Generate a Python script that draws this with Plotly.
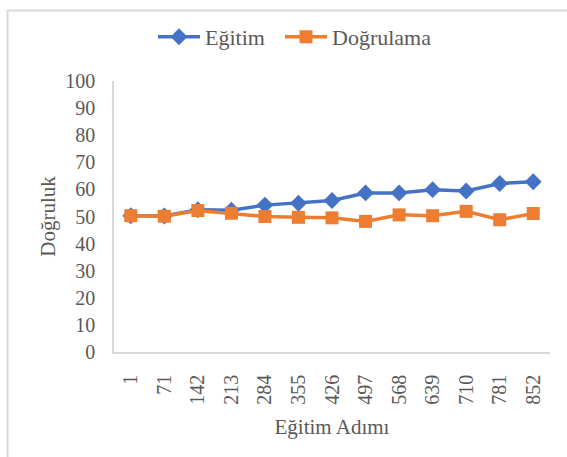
import plotly.graph_objects as go

steps = ["1", "71", "142", "213", "284", "355", "426", "497", "568", "639", "710", "781", "852"]
egitim = [50.3, 50.2, 52.5, 52.3, 54.2, 54.9, 55.9, 58.7, 58.7, 59.9, 59.4, 62.2, 62.8]
dogrulama = [50.3, 50.1, 52.2, 51.2, 50.0, 49.7, 49.5, 48.2, 50.6, 50.3, 51.9, 48.8, 51.1]

FONT = "Liberation Serif"
GRAY = "#595959"

fig = go.Figure()
fig.add_trace(go.Scatter(
    x=steps, y=egitim, name="Eğitim", mode="lines+markers", legendwidth=70,
    line=dict(color="#4472C4", width=3.5),
    marker=dict(symbol="diamond", size=13, color="#4472C4"),
))
fig.add_trace(go.Scatter(
    x=steps, y=dogrulama, name="Doğrulama", mode="lines+markers", legendwidth=97,
    line=dict(color="#ED7D31", width=3.5),
    marker=dict(symbol="square", size=13, color="#ED7D31"),
))

fig.update_layout(
    width=567, height=457,
    margin=dict(l=114, r=17, t=77, b=105),
    paper_bgcolor="white", plot_bgcolor="white",
    font=dict(family=FONT, size=20, color=GRAY),
    showlegend=True,
    legend=dict(orientation="h", x=(283.5 + 10) / 567, xref="container", xanchor="center",
                y=1 - 37 / 457, yref="container", yanchor="middle",
                font=dict(family=FONT, size=22, color=GRAY), itemwidth=42),
    xaxis=dict(
        type="category", showgrid=False, showline=True, linecolor="#d9d9d9", linewidth=1.5,
        tickangle=-90, ticks="outside", ticklen=13, tickcolor="rgba(0,0,0,0)",
        tickfont=dict(family=FONT, size=20, color=GRAY),
        title=dict(text="Eğitim Adımı", font=dict(family=FONT, size=21, color=GRAY), standoff=16),
        range=[-0.5, 12.5], zeroline=False,
    ),
    yaxis=dict(
        range=[0, 100], dtick=10, showgrid=False, showline=True, linecolor="#d9d9d9", linewidth=1.5,
        ticks="outside", ticklen=13, tickcolor="rgba(0,0,0,0)",
        tickfont=dict(family=FONT, size=20, color=GRAY),
        title=dict(text="Doğruluk", font=dict(family=FONT, size=21, color=GRAY), standoff=4),
        zeroline=False,
    ),
    shapes=[dict(type="rect", xref="paper", yref="paper",
                 x0=-(114 - 7.5) / 436, x1=(567 - 114 + 20) / 436,
                 y0=-(105 + 20) / 275, y1=1 + (77 - 5.5) / 275,
                 line=dict(color="#d9d9d9", width=2), layer="below")],
)

fig.write_html("out.html", config={"displayModeBar": False},
               post_script="document.body.style.margin='0';document.body.style.overflow='hidden';")
